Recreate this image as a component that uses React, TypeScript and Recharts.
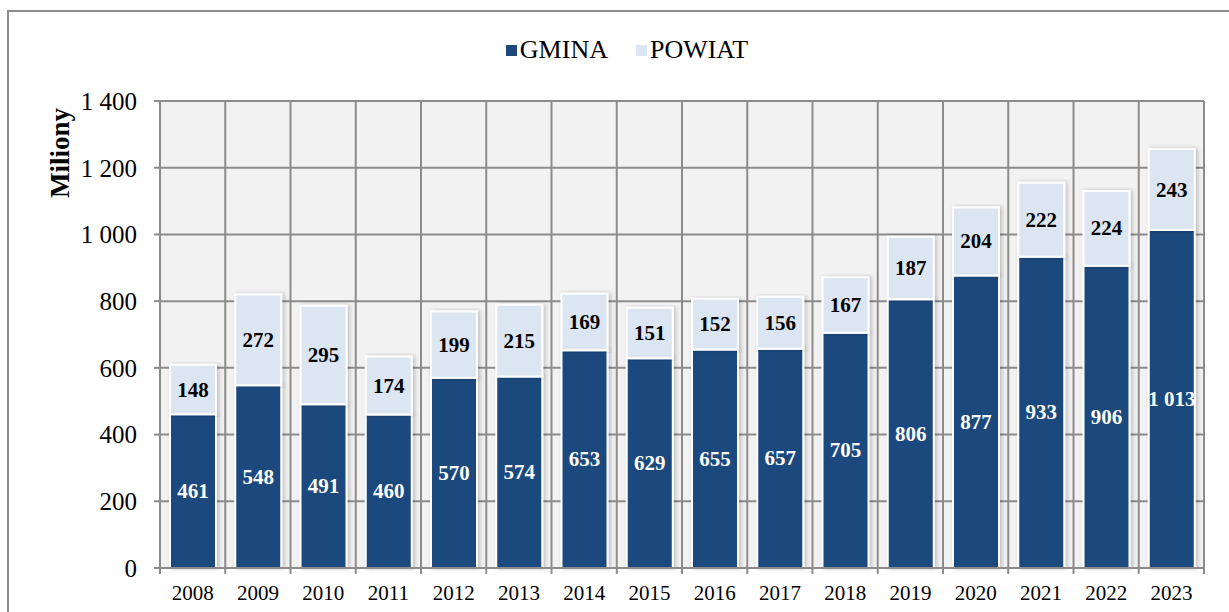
import { BarChart, Bar, XAxis, YAxis, CartesianGrid, Legend, LabelList } from "recharts";

// ── Data ─────────────────────────────────────────────────────────────

const YEARS = ["2008", "2009", "2010", "2011", "2012", "2013", "2014", "2015", "2016", "2017", "2018", "2019", "2020", "2021", "2022", "2023"];
const GMINA = [461, 548, 491, 460, 570, 574, 653, 629, 655, 657, 705, 806, 877, 933, 906, 1013];
const POWIAT = [148, 272, 295, 174, 199, 215, 169, 151, 152, 156, 167, 187, 204, 222, 224, 243];
const Y_TICKS = [0, 200, 400, 600, 800, 1000, 1200, 1400];

const data = YEARS.map((year, i) => ({ year, gmina: GMINA[i], powiat: POWIAT[i] }));

// ── Style ────────────────────────────────────────────────────────────

const FONT = '"Liberation Serif", "Times New Roman", serif';
const DARK = "#1f497d";
const LIGHT = "#dce6f2";
const GRID = "#8c8c8c";
const W = 1236;
const H = 616;
const MARGIN = { top: 89, right: 41, bottom: 0, left: 0 };
const Y_WIDTH = 151;
const BAND = (W - MARGIN.right - Y_WIDTH) / YEARS.length;

const fmt = (v: number | string) => String(v).replace(/\B(?=(\d{3})+(?!\d))/g, " ");

const XTick = (props: any) => {
  const { x, y, payload, index } = props;
  const half = BAND / 2;
  return (
    <g>
      <line x1={x - half} x2={x - half} y1={y} y2={y + 6} stroke={GRID} strokeWidth={2} />
      {index === YEARS.length - 1 && (
        <line x1={x + half} x2={x + half} y1={y} y2={y + 6} stroke={GRID} strokeWidth={2} />
      )}
      <text x={x} y={y + 25} textAnchor="middle" dominantBaseline="central" fontFamily={FONT} fontSize={21} fill="#000">
        {payload.value}
      </text>
    </g>
  );
};

const YLabel = (props: any) => {
  const { viewBox } = props;
  const x = viewBox.x + 51;
  const y = viewBox.y + 52;
  return (
    <text
      x={x}
      y={y}
      transform={`rotate(-90 ${x} ${y})`}
      textAnchor="middle"
      dominantBaseline="central"
      fontFamily={FONT}
      fontWeight="bold"
      fontSize={27}
      fill="#000"
    >
      Miliony
    </text>
  );
};

// value label centred in its segment, never wrapped
const valueLabel = (color: string) => (props: any) => {
  const vb = props.viewBox || props;
  const { x, y, width, height } = vb;
  return (
    <text
      x={x + width / 2}
      y={y + height / 2}
      textAnchor="middle"
      dominantBaseline="central"
      fontFamily={FONT}
      fontWeight="bold"
      fontSize={21}
      fill={color}
    >
      {fmt(props.value)}
    </text>
  );
};

const LegendBox = () => (
  <div style={{ display: "flex", justifyContent: "center", alignItems: "center", fontFamily: FONT, fontSize: 26, color: "#000", lineHeight: "30px" }}>
    <span style={{ width: 11, height: 11, background: DARK, marginRight: 3 }} />
    <span style={{ marginRight: 28 }}>GMINA</span>
    <span style={{ width: 11, height: 11, background: LIGHT, marginRight: 3 }} />
    <span>POWIAT</span>
  </div>
);

// ── Component ────────────────────────────────────────────────────────

export default function App() {
  return (
    <div
      style={{
        position: "fixed",
        left: 7,
        top: 10,
        width: W + 4,
        height: H + 4,
        border: `2px solid ${GRID}`,
        boxSizing: "border-box",
        background: "#fff",
      }}
    >
      <BarChart width={W} height={H} data={data} margin={MARGIN} barSize={46}>
        <defs>
          <filter id="barShadow" x="-20%" y="-5%" width="140%" height="110%">
            <feDropShadow dx={2} dy={0} stdDeviation={2} floodColor="#000" floodOpacity={0.22} />
          </filter>
        </defs>
        <CartesianGrid
          stroke={GRID}
          strokeWidth={2}
          fill="#f2f2f2"
          verticalCoordinatesGenerator={({ offset }: any) =>
            Array.from({ length: YEARS.length + 1 }, (_, i) => offset.left + (i * offset.width) / YEARS.length)
          }
        />
        <XAxis
          dataKey="year"
          height={60}
          tickSize={0}
          tickMargin={0}
          tick={<XTick />}
          axisLine={{ stroke: GRID, strokeWidth: 2 }}
          interval={0}
        />
        <YAxis
          width={Y_WIDTH}
          domain={[0, 1400]}
          ticks={Y_TICKS}
          tickFormatter={fmt}
          tickSize={6}
          tickMargin={17}
          tickLine={{ stroke: GRID, strokeWidth: 2 }}
          axisLine={{ stroke: GRID, strokeWidth: 2 }}
          tick={{ fontFamily: FONT, fontSize: 25, fill: "#000" }}
          label={<YLabel />}
        />
        <Legend
          verticalAlign="middle"
          align="center"
          wrapperStyle={{ top: 23, left: 0, width: W, height: 30 }}
          content={<LegendBox />}
        />
        <Bar dataKey="gmina" name="GMINA" stackId="a" fill={DARK} stroke="#fff" strokeWidth={2} filter="url(#barShadow)" isAnimationActive={false}>
          <LabelList dataKey="gmina" content={valueLabel("#fff")} />
        </Bar>
        <Bar dataKey="powiat" name="POWIAT" stackId="a" fill={LIGHT} stroke="#fff" strokeWidth={2} filter="url(#barShadow)" isAnimationActive={false}>
          <LabelList dataKey="powiat" content={valueLabel("#000")} />
        </Bar>
      </BarChart>
    </div>
  );
}
